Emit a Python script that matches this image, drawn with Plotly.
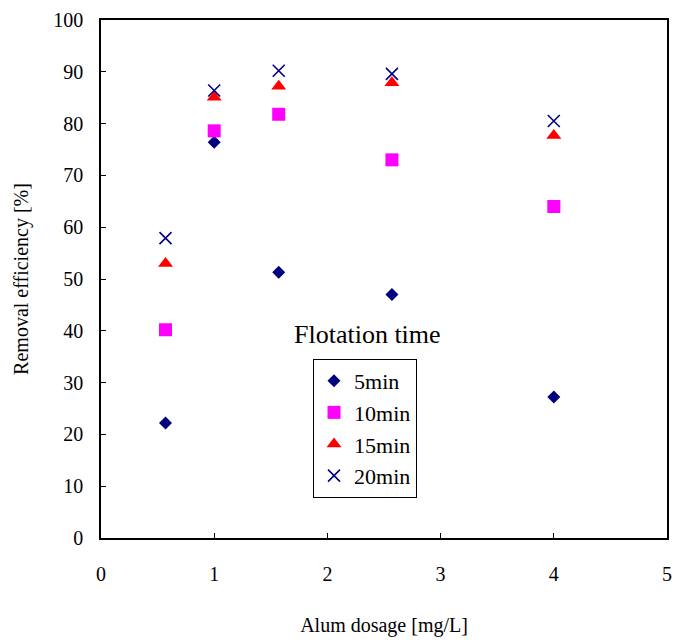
import plotly.graph_objects as go

dosage = [0.57, 1.0, 1.57, 2.57, 4.0]
eff_5min = [22.2, 76.4, 51.3, 47.0, 27.2]
eff_10min = [40.2, 78.6, 81.8, 73.0, 64.0]
eff_15min = [53.0, 85.1, 87.2, 87.9, 77.7]
eff_20min = [57.9, 86.4, 90.2, 89.6, 80.5]
series_names = ["5min", "10min", "15min", "20min"]

FF = "Liberation Serif"

fig = go.Figure()
styles = [
    dict(symbol="diamond", color="#000080", size=10),
    dict(symbol="square", color="#FF00FF", size=13),
    dict(symbol="triangle-up", color="#FF0000", size=13),
    dict(symbol="x-thin", color="#000080", size=12),
]
for name, ys, st in zip(series_names, [eff_5min, eff_10min, eff_15min, eff_20min], styles):
    marker = dict(symbol=st["symbol"], color=st["color"], size=st["size"])
    if st["symbol"] == "x-thin":
        marker["line"] = dict(color=st["color"], width=1.6)
    else:
        marker["line"] = dict(width=0)
    fig.add_trace(go.Scatter(x=dosage, y=ys, mode="markers", name=name, marker=marker))

fig.update_layout(
    width=676, height=643,
    margin=dict(l=101, r=9, t=20, b=105),
    paper_bgcolor="white", plot_bgcolor="white",
    font=dict(family=FF, size=20, color="black"),
    showlegend=True,
    legend=dict(
        x=0.3746, y=0.3456, xanchor="left", yanchor="top",
        bordercolor="black", borderwidth=1, bgcolor="white",
        font=dict(size=22, family=FF, color="black"),
        itemwidth=30, tracegroupgap=0,
    ),
    annotations=[dict(
        text="Flotation time", x=0.47, y=0.392, xref="paper", yref="paper",
        xanchor="center", yanchor="middle", showarrow=False,
        font=dict(size=26, family=FF, color="black"),
    )],
)
fig.update_xaxes(
    range=[0, 5], dtick=1, tick0=0, showgrid=False, zeroline=False,
    showline=True, linecolor="black", linewidth=1.5, mirror=True,
    ticks="inside", ticklen=5, tickcolor="black",
    ticklabelstandoff=17, automargin=False,
    title=dict(text="Alum dosage [mg/L]", standoff=34, font=dict(family=FF, size=20, color="black")),
    tickfont=dict(size=20, family=FF, color="black"),
)
fig.update_yaxes(
    range=[0, 100], dtick=10, tick0=0, showgrid=False, zeroline=False,
    showline=True, linecolor="black", linewidth=1.5, mirror=True,
    ticks="inside", ticklen=5, tickcolor="black",
    ticklabelstandoff=12, automargin=False,
    title=dict(text="Removal efficiency [%]", standoff=19, font=dict(family=FF, size=20, color="black")),
    tickfont=dict(size=20, family=FF, color="black"),
)
fig.write_html("out.html")
